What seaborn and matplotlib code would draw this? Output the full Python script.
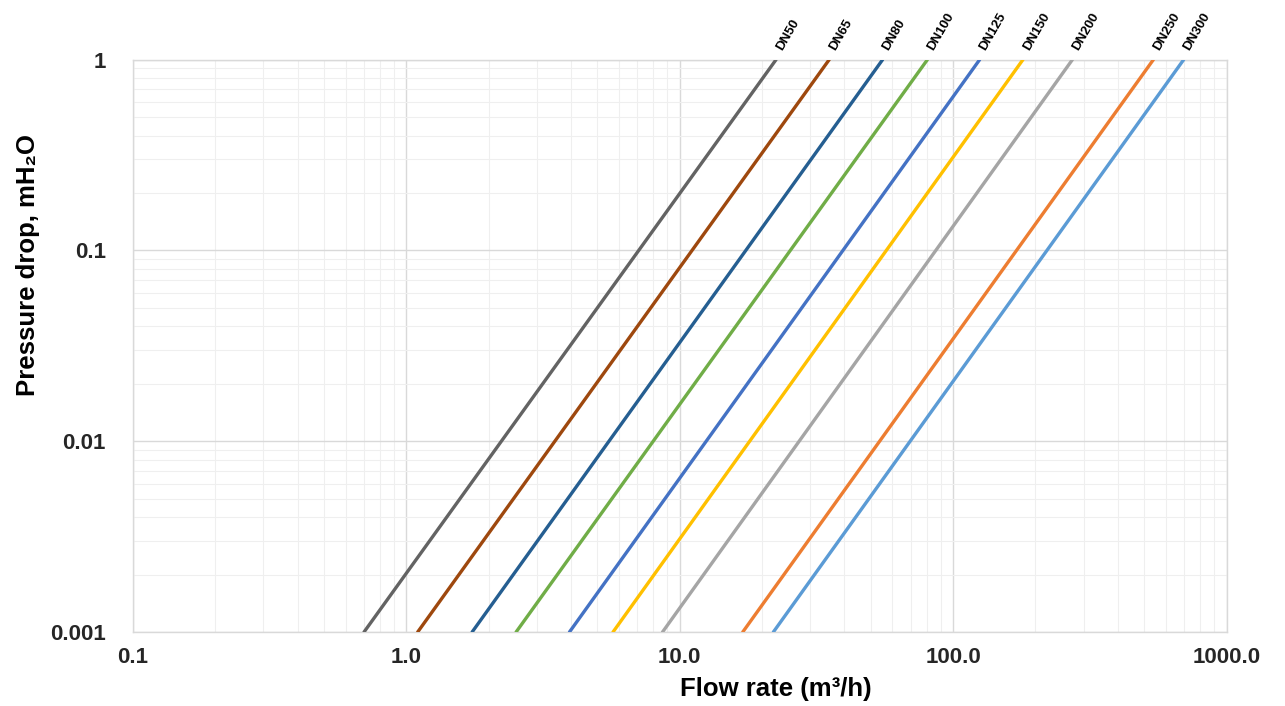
import pandas as pd
import seaborn as sns
import matplotlib.pyplot as plt
from matplotlib.ticker import FixedLocator, LogLocator, NullFormatter

# Valve sizes and the flow rates at each end of the lines
sizes = ["DN50", "DN65", "DN80", "DN100", "DN125", "DN150", "DN200", "DN250", "DN300"]
flow_low = [0.70, 1.10, 1.74, 2.52, 3.95, 5.70, 8.65, 17.0, 22.0]      # at 0.001 mH2O
flow_high = [22.5, 35.2, 55.2, 80.5, 125.0, 180.0, 273.0, 540.0, 697.0]  # at 1 mH2O
dp_low = 0.001
dp_high = 1.0

colors = ["#636363", "#9E480E", "#255E91", "#70AD47", "#4472C4",
          "#FFC000", "#A5A5A5", "#ED7D31", "#5B9BD5"]

x_ticks = [0.1, 1, 10, 100, 1000]
x_tick_labels = ["0.1", "1.0", "10.0", "100.0", "1000.0"]
y_ticks = [0.001, 0.01, 0.1, 1]
y_tick_labels = ["0.001", "0.01", "0.1", "1"]

# Long table for seaborn
rows = []
for name, q0, q1 in zip(sizes, flow_low, flow_high):
    rows.append({"size": name, "flow": q0, "dp": dp_low})
    rows.append({"size": name, "flow": q1, "dp": dp_high})
df = pd.DataFrame(rows)

sns.set_style("white")
plt.rcParams['font.family'] = ['Liberation Sans', 'DejaVu Sans']

fig = plt.figure(figsize=(12.85, 7.06), dpi=100)
ax = fig.add_axes([0.1035, 0.1048, 0.851, 0.8107])

sns.lineplot(data=df, x="flow", y="dp", hue="size", hue_order=sizes,
             palette=colors, linewidth=2.4, legend=False, ax=ax, zorder=3)

ax.set_xscale("log")
ax.set_yscale("log")
ax.set_xlim(0.1, 1000)
ax.set_ylim(0.001, 1)

# Grid lines, major and minor
ax.xaxis.set_major_locator(FixedLocator(x_ticks))
ax.yaxis.set_major_locator(FixedLocator(y_ticks))
ax.xaxis.set_minor_locator(LogLocator(base=10, subs=range(2, 10)))
ax.yaxis.set_minor_locator(LogLocator(base=10, subs=range(2, 10)))
ax.xaxis.set_minor_formatter(NullFormatter())
ax.yaxis.set_minor_formatter(NullFormatter())
ax.set_xticklabels(x_tick_labels, fontweight='bold', fontsize=16, color='#262626')
ax.set_yticklabels(y_tick_labels, fontweight='bold', fontsize=16, color='#262626')
ax.grid(which='major', color='#d9d9d9', linewidth=1.0, zorder=0)
ax.grid(which='minor', color='#efefef', linewidth=0.8, zorder=0)
ax.tick_params(which='both', length=0)
ax.tick_params(axis='x', pad=11)
ax.tick_params(axis='y', pad=19.5)

for side in ax.spines.values():
    side.set_color('#d9d9d9')
    side.set_linewidth(1.0)

# Labels (Excel placed them off-centre)
ax.set_xlabel('Flow rate (m³/h)', fontweight='bold', fontsize=18.5, color='#000000')
ax.set_ylabel('Pressure drop, mH₂O', fontweight='bold', fontsize=18.5, color='#000000')
ax.xaxis.set_label_coords(0.588, -0.079)
ax.yaxis.set_label_coords(-0.085, 0.642)

# Size names above the top end of each line
for name, q1 in zip(sizes, flow_high):
    ax.annotate(name, xy=(q1, dp_high), xytext=(6, 5), textcoords='offset points',
                rotation=60, rotation_mode='anchor', ha='left', va='bottom',
                fontsize=9.5, fontweight='bold', color='black', annotation_clip=False)

plt.savefig("out.png", dpi=100)
